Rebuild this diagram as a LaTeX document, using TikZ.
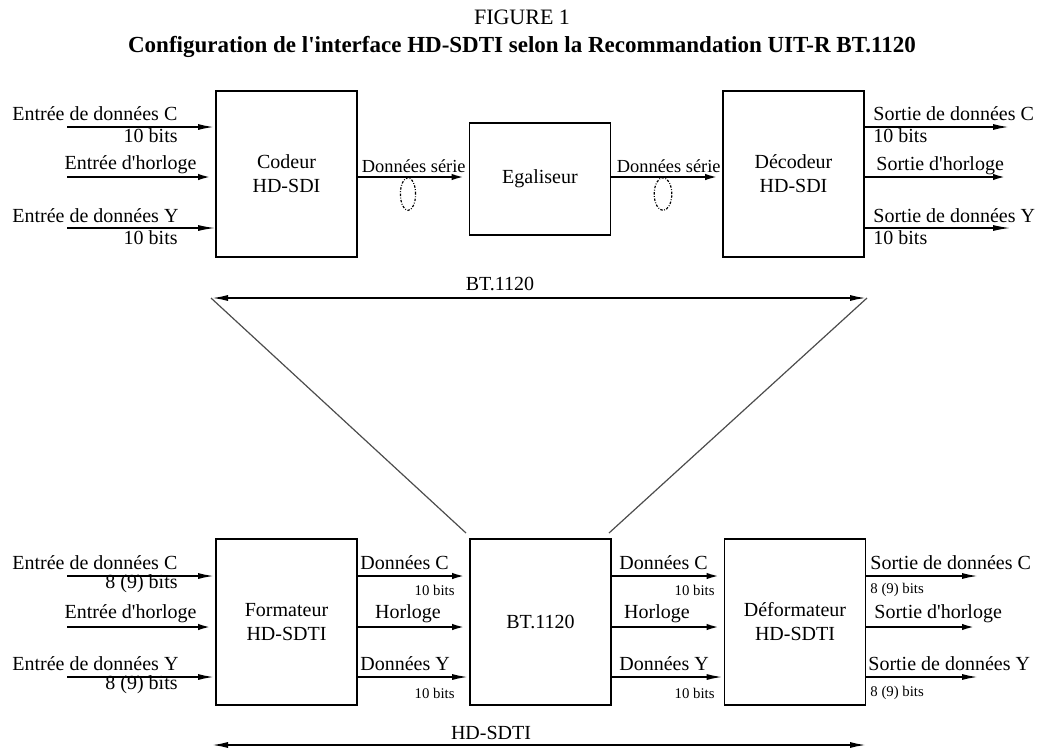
\documentclass[tikz,border=0pt]{standalone}
\usepackage{fontspec}
\setmainfont{Liberation Serif}
\usetikzlibrary{arrows.meta}
\newcommand{\apos}{\textquotesingle}
\tikzset{
  blk/.style={draw, line width=0.9pt, minimum width=70.5pt, minimum height=83pt, align=center, inner sep=0pt, font=\fontsize{10}{12}\selectfont},
  lowblk/.style={blk, minimum height=56pt},
  lbl/.style={inner sep=0pt, font=\fontsize{10}{12}\selectfont},
  serlbl/.style={inner sep=0pt, font=\fontsize{9.2}{11}\selectfont},
  smalllbl/.style={inner sep=0pt, font=\fontsize{7.4}{9}\selectfont},
  flow/.style={-{Latex[length=8.5pt,width=3pt]}, line width=1pt},
  clk/.style={flow, line width=1.4pt},
  thinflow/.style={flow, line width=0.6pt},
  span/.style={{Latex[length=8.5pt,width=3pt]}-{Latex[length=8.5pt,width=3pt]}, line width=1pt},
  guide/.style={line width=0.6pt, black!70},
  cable/.style={dash pattern=on 1.2pt off 0.8pt on 0.4pt off 0.8pt, line width=0.6pt},
}

\begin{document}
\begin{tikzpicture}[x=0.5pt, y=-0.5pt]
    \useasboundingbox (0,0) rectangle (1044,751);
    % titre
    \node[lbl, font=\fontsize{11}{13}\selectfont] (fig) at (522,17) {FIGURE 1};
    \node[lbl, font=\bfseries\fontsize{11.5}{13}\selectfont] (title) at (522,47) {Configuration de l\apos interface HD-SDTI selon la Recommandation UIT-R BT.1120};

    % chaine BT.1120
    \node[blk] (cod) at (286.5,174) {Codeur\\HD-SDI};
    \node[lowblk] (ega) at (540,179) {Egaliseur};
    \node[blk] (dec) at (793.5,174) {Décodeur\\HD-SDI};
    \coordinate (inC) at (67,127);
    \coordinate (inH) at (67,177);
    \coordinate (inY) at (67,228);
    \coordinate (outC) at (1010,127);
    \coordinate (outH) at (1010,177);
    \coordinate (outY) at (1010,228);
    \draw[flow] (inC) -- (inC -| cod.west);
    \draw[clk] (inH) -- (inH -| cod.west);
    \draw[thinflow] (inY) -- (inY -| cod.west);
    \draw[clk] (cod.east |- inH) -- (ega.west |- inH);
    \draw[clk] (ega.east |- inH) -- (dec.west |- inH);
    \draw[flow] (dec.east |- outC) -- (outC);
    \draw[clk] (dec.east |- outH) -- (outH);
    \draw[thinflow] (dec.east |- outY) -- (outY);
    \node[lbl, anchor=west] (tInC) at (12,114) {Entrée de données C};
    \node[lbl, anchor=east] (bInC) at (178,136) {10 bits};
    \node[lbl, anchor=east] (tInH) at (197,165) {Entrée d\apos horloge};
    \node[lbl, anchor=west] (tInY) at (12,216) {Entrée de données Y};
    \node[lbl, anchor=east] (bInY) at (178,238) {10 bits};
    \node[serlbl, anchor=east] (ser1) at (466,166) {Données série};
    \node[serlbl, anchor=east] (ser2) at (721,166) {Données série};
    \node[lbl, anchor=west] (tOutC) at (873,114) {Sortie de données C};
    \node[lbl, anchor=west] (bOutC) at (873,136) {10 bits};
    \node[lbl, anchor=west] (tOutH) at (876,166) {Sortie d\apos horloge};
    \node[lbl, anchor=west] (tOutY) at (873,216) {Sortie de données Y};
    \node[lbl, anchor=west] (bOutY) at (873,238) {10 bits};
    \draw[cable] (408,194) ellipse [x radius=3.8pt, y radius=8.2pt];
    \draw[cable] (663,194) ellipse [x radius=4.4pt, y radius=8.2pt];

    % etendue BT.1120
    \coordinate (spL) at (211,298);
    \coordinate (spR) at (867,298);
    \coordinate (btL) at (466,533);
    \coordinate (btR) at (609,533);
    \draw[span] (spL) -- (spR);
    \node[lbl] (tSpan) at (500,284) {BT.1120};
    \draw[guide] (spL) -- (btL);
    \draw[guide] (spR) -- (btR);

    % chaine HD-SDTI
    \node[blk] (fmt) at (286.5,622) {Formateur\\HD-SDTI};
    \node[blk] (bt) at (540.5,622) {BT.1120};
    \node[blk] (dfm) at (795,622) {Déformateur\\HD-SDTI};
    \coordinate (fC) at (67,576);
    \coordinate (fH) at (67,627);
    \coordinate (fY) at (67,677);
    \coordinate (gC) at (979,576);
    \coordinate (gH) at (979,627);
    \coordinate (gY) at (979,677);
    \draw[flow] (fC) -- (fC -| fmt.west);
    \draw[clk] (fH) -- (fH -| fmt.west);
    \draw[flow] (fY) -- (fY -| fmt.west);
    \draw[clk] (fmt.east |- fC) -- (bt.west |- fC);
    \draw[clk] (fmt.east |- fH) -- (bt.west |- fH);
    \draw[flow] (fmt.east |- fY) -- (bt.west |- fY);
    \draw[clk] (bt.east |- fC) -- (dfm.west |- fC);
    \draw[clk] (bt.east |- fH) -- (dfm.west |- fH);
    \draw[flow] (bt.east |- fY) -- (dfm.west |- fY);
    \draw[flow] (dfm.east |- gC) -- (gC);
    \draw[clk] (dfm.east |- gH) -- (gH);
    \draw[flow] (dfm.east |- gY) -- (gY);
    \node[lbl, anchor=west] (tFC) at (12,563) {Entrée de données C};
    \node[lbl, anchor=east] (bFC) at (178,584) {8 (9) bits};
    \node[lbl, anchor=east] (tFH) at (197,614) {Entrée d\apos horloge};
    \node[lbl, anchor=west] (tFY) at (12,664) {Entrée de données Y};
    \node[lbl, anchor=east] (bFY) at (178,685) {8 (9) bits};
    \node[lbl, anchor=west] (m1C) at (360,563) {Données C};
    \node[smalllbl, anchor=east] (m1Cb) at (455,590) {10 bits};
    \node[lbl] (m1H) at (408,614) {Horloge};
    \node[lbl, anchor=west] (m1Y) at (360,664) {Données Y};
    \node[smalllbl, anchor=east] (m1Yb) at (455,693) {10 bits};
    \node[lbl, anchor=west] (m2C) at (619,563) {Données C};
    \node[smalllbl, anchor=east] (m2Cb) at (715,590) {10 bits};
    \node[lbl] (m2H) at (657,614) {Horloge};
    \node[lbl, anchor=west] (m2Y) at (619,664) {Données Y};
    \node[smalllbl, anchor=east] (m2Yb) at (715,693) {10 bits};
    \node[lbl, anchor=west] (tGC) at (870,563) {Sortie de données C};
    \node[smalllbl, anchor=west] (bGC) at (870,590) {8 (9) bits};
    \node[lbl, anchor=west] (tGH) at (874,614) {Sortie d\apos horloge};
    \node[lbl, anchor=west] (tGY) at (868,664) {Sortie de données Y};
    \node[smalllbl, anchor=west] (bGY) at (870,693) {8 (9) bits};

    % etendue HD-SDTI
    \coordinate (hsL) at (211,745);
    \coordinate (hsR) at (867,745);
    \draw[span] (hsL) -- (hsR);
    \node[lbl] (tHs) at (491,733) {HD-SDTI};
  \end{tikzpicture}
\end{document}
